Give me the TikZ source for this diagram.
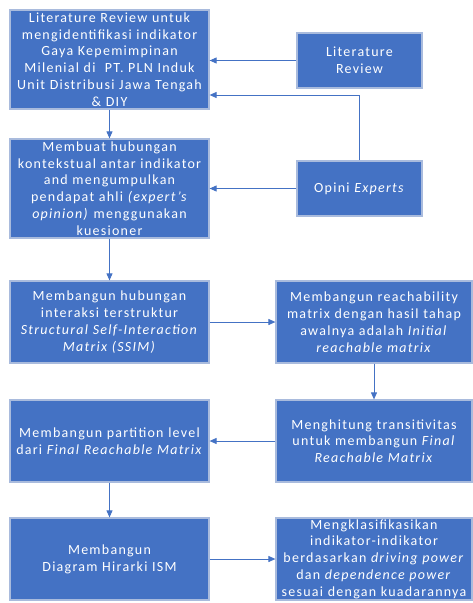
\documentclass[tikz,border=0pt]{standalone}
\usepackage{fontspec}
\setmainfont[LetterSpace=9]{Carlito}
\usetikzlibrary{arrows.meta}
\definecolor{boxblue}{HTML}{4472C4}
\definecolor{boxedge}{HTML}{A9BBDD}
\tikzset{
  box/.style={draw=boxedge, line width=1.2pt, fill=boxblue, text=white, align=center,
    inner sep=0pt, font=\fontsize{14}{16.8}\selectfont},
  conn/.style={draw=boxblue, line width=0.9pt, -{Triangle[length=7pt,width=6pt]}}
}
\begin{document}
\begin{tikzpicture}[x=1pt,y=-1pt]
\useasboundingbox (0,0) rectangle (472,603);
\node[box, minimum width=199pt, minimum height=99pt, text width=199pt] (a) at (109.5,59.5)
  {Literature Review untuk\\ mengidentifikasi indikator\\ Gaya Kepemimpinan\\ Milenial di\ \ PT. PLN Induk\\ Unit Distribusi Jawa Tengah\\ \& DIY};
\node[box, minimum width=125pt, minimum height=55pt, text width=125pt] (lr) at (359.5,60.5)
  {Literature\\ Review};
\node[box, minimum width=199pt, minimum height=99pt, text width=199pt] (b) at (109.5,188.5)
  {Membuat hubungan\\ kontekstual antar indikator\\ and mengumpulkan\\ pendapat ahli \textit{(expert's}\\ \textit{opinion)} menggunakan\\ kuesioner};
\node[box, minimum width=125pt, minimum height=55pt, text width=125pt] (oe) at (359.5,188.5)
  {Opini \textit{Experts}};
\node[box, minimum width=199pt, minimum height=82pt, text width=199pt] (c) at (109.5,322)
  {Membangun hubungan\\ interaksi terstruktur\\ \textit{Structural Self-Interaction}\\ \textit{Matrix (SSIM)}};
\node[box, minimum width=196pt, minimum height=82pt, text width=196pt] (d) at (374,322)
  {Membangun reachability\\ matrix dengan hasil tahap\\ awalnya adalah \textit{Initial}\\ \textit{reachable matrix}};
\node[box, minimum width=196pt, minimum height=82pt, text width=196pt] (e) at (374,441)
  {Menghitung transitivitas\\ untuk membangun \textit{Final}\\ \textit{Reachable Matrix}};
\node[box, minimum width=199pt, minimum height=82pt, text width=199pt] (f) at (109.5,441)
  {Membangun partition level\\ dari \textit{Final Reachable Matrix}};
\node[box, minimum width=199pt, minimum height=82pt, text width=199pt] (g) at (109.5,559)
  {Membangun\\ Diagram Hirarki ISM};
\node[box, minimum width=196pt, minimum height=82pt, text width=196pt] (h) at (374,559)
  {Mengklasifikasikan\\ indikator-indikator\\ berdasarkan \textit{driving power}\\ dan \textit{dependence power}\\ sesuai dengan kuadarannya};
\draw[conn] (lr.west) -- (a.east |- lr.west);
\draw[conn] (oe.north) |- (a.east |- 0,95);
\draw[conn] (oe.west) -- (b.east |- oe.west);
\draw[conn] (a.south) -- (b.north);
\draw[conn] (b.south) -- (c.north);
\draw[conn] (c.east) -- (d.west);
\draw[conn] (d.south) -- (d.south |- e.north);
\draw[conn] (e.west) -- (f.east);
\draw[conn] (f.south) -- (g.north);
\draw[conn] (g.east) -- (h.west);
\end{tikzpicture}
\end{document}
